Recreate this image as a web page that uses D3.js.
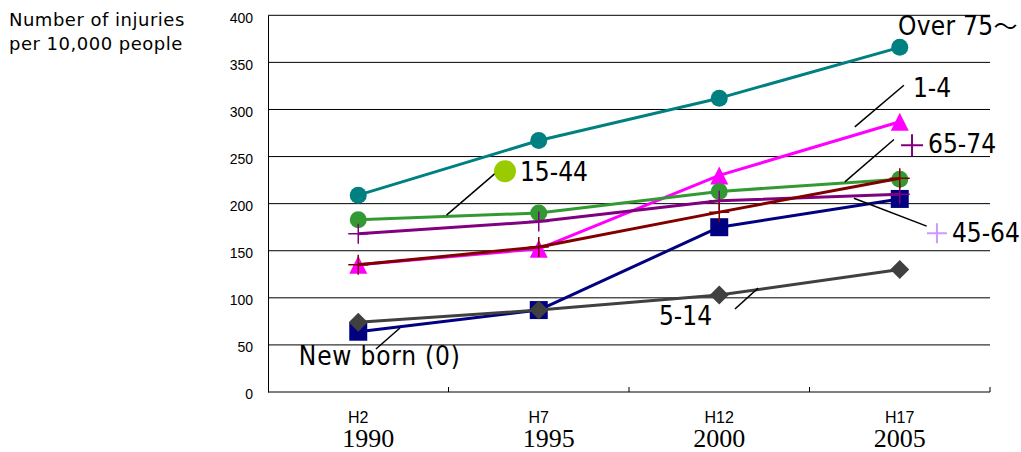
<!DOCTYPE html>
<html>
<head>
<meta charset="utf-8">
<script src="https://cdn.jsdelivr.net/npm/d3@7"></script>
<style>
  html, body { margin: 0; padding: 0; background: #fff; }
  svg { display: block; }
  .cond { font-family: "DejaVu Sans Condensed", "DejaVu Sans", sans-serif; font-stretch: condensed; }
</style>
</head>
<body>
<svg id="chart" width="1021" height="452"></svg>
<script>
// Injury rate per 10,000 people, by age group
const years = ["1990", "1995", "2000", "2005"];
const eraLabels = ["H2", "H7", "H12", "H17"];
const yTicks = [0, 50, 100, 150, 200, 250, 300, 350, 400];

const newborn   = [64, 87, 175, 205];
const age1to4   = [135, 152, 230, 287];
const age5to14  = [74, 87, 103, 130];
const age15to44 = [183, 190, 213, 226];
const age45to64 = [168, 181, 203, 210];
const age65to74 = [135, 154, 191, 227];
const over75    = [209, 267, 312, 366];

const seriesNames = ["New born (0)", "1-4", "5-14", "15-44", "45-64", "65-74", "Over 75～"];
const seriesValues = [newborn, age1to4, age5to14, age15to44, age45to64, age65to74, over75];
const seriesColors = ["#000080", "#ff00ff", "#404040", "#339933", "#800080", "#800000", "#008080"];
const seriesShapes = ["square", "triangle", "diamond", "circle", "plus", "plus", "circle"];

const svg = d3.select("#chart");
const plot = { left: 268, right: 990, top: 15.3, bottom: 392 };

const x = d3.scaleBand().domain(years).range([plot.left, plot.right]).padding(0);
const y = d3.scaleLinear().domain([0, 400]).range([plot.bottom, plot.top]);
const cx = d => x(d) + x.bandwidth() / 2;
// fractional category index -> pixel, for annotations placed between categories
const xi = d3.scaleLinear().domain([0, years.length - 1]).range([cx(years[0]), cx(years[years.length - 1])]);

// gridlines
svg.append("g")
  .selectAll("line").data(yTicks.filter(t => t > 0)).join("line")
  .attr("x1", plot.left).attr("x2", plot.right)
  .attr("y1", d => y(d)).attr("y2", d => y(d))
  .attr("stroke", "#000").attr("stroke-width", 1);

// y axis
const yAxis = svg.append("g").attr("transform", `translate(${plot.left},0)`)
  .call(d3.axisLeft(y).tickValues(yTicks).tickSize(0).tickPadding(15));
yAxis.select(".domain").attr("stroke", "#000");
yAxis.selectAll("text")
  .attr("font-family", "Liberation Sans, Arial, sans-serif")
  .attr("font-size", 14).attr("fill", "#000").attr("dy", "0.48em");

// x axis with inward ticks at category boundaries
const xAxisG = svg.append("g").attr("transform", `translate(0,${plot.bottom})`);
xAxisG.append("line").attr("x1", plot.left).attr("x2", plot.right).attr("stroke", "#000");
xAxisG.selectAll("line.tick").data(years).join("line").attr("class", "tick")
  .attr("x1", d => x(d) + x.bandwidth()).attr("x2", d => x(d) + x.bandwidth())
  .attr("y1", -5).attr("y2", 0).attr("stroke", "#000");

// category labels: era name above the western year
const yearNudge = [10, 10, 0, 0];
svg.append("g").selectAll("text").data(eraLabels).join("text")
  .attr("x", (d, i) => cx(years[i])).attr("y", 423)
  .attr("text-anchor", "middle")
  .attr("font-family", "Liberation Sans, Arial, sans-serif").attr("font-size", 16)
  .text(d => d);
svg.append("g").selectAll("text").data(years).join("text")
  .attr("x", (d, i) => cx(d) + yearNudge[i]).attr("y", 447)
  .attr("text-anchor", "middle")
  .attr("font-family", "Liberation Serif, Times New Roman, serif").attr("font-size", 26)
  .text(d => d);

// y axis title
const title = svg.append("text")
  .attr("font-family", "DejaVu Sans, sans-serif").attr("font-size", 18)
  .attr("letter-spacing", 0.5).attr("fill", "#000");
title.append("tspan").attr("x", 9).attr("y", 26).text("Number of injuries");
title.append("tspan").attr("x", 9).attr("y", 50).text("per 10,000 people");

// marker shapes
function markerPath(shape) {
  switch (shape) {
    case "square": return "M-9,-9H9V9H-9Z";
    case "triangle": return "M0,-9L9,9H-9Z";
    case "diamond": return "M0,-9.5L9.5,0L0,9.5L-9.5,0Z";
    case "circle": return d3.symbol(d3.symbolCircle, Math.PI * 8.5 * 8.5)();
    case "plus": return "M-10,0H10M0,-10V10";
  }
}

const line = d3.line().x((d, i) => cx(years[i])).y(d => y(d));

seriesValues.forEach((vals, s) => {
  const g = svg.append("g");
  g.append("path").attr("d", line(vals))
    .attr("fill", "none").attr("stroke", seriesColors[s]).attr("stroke-width", 3)
    .attr("stroke-linejoin", "round");
  const shape = seriesShapes[s];
  g.selectAll("path.m").data(vals).join("path").attr("class", "m")
    .attr("transform", (d, i) => `translate(${cx(years[i])},${y(d)})`)
    .attr("d", markerPath(shape))
    .attr("fill", shape === "plus" ? "none" : seriesColors[s])
    .attr("stroke", shape === "plus" ? seriesColors[s] : "none")
    .attr("stroke-width", 1.5);
});

// series labels with leader lines (positions in category index / value units)
const leaders = [
  { name: "15-44",  from: [0.489, 187.8], to: [0.762, 232.7] },
  { name: "1-4",    from: [2.751, 281.5], to: [3.023, 325.7] },
  { name: "65-74",  from: [2.696, 223.1], to: [2.968, 268.1] },
  { name: "45-64",  from: [2.746, 205.8], to: [3.149, 176.1] },
  { name: "5-14",   from: [2.087, 88.1],  to: [2.215, 110.3] },
  { name: "New born (0)", from: [0.098, 45.6], to: [0.231, 67.9] }
];
svg.append("g").selectAll("line").data(leaders).join("line")
  .attr("x1", d => xi(d.from[0])).attr("y1", d => y(d.from[1]))
  .attr("x2", d => xi(d.to[0])).attr("y2", d => y(d.to[1]))
  .attr("stroke", "#000").attr("stroke-width", 1.5);

const labels = [
  { text: seriesNames[6], at: [2.990, 378.8], spacing: 0.3 },
  { text: seriesNames[3], at: [0.896, 223.9], spacing: 0 },
  { text: seriesNames[1], at: [3.073, 313.0], spacing: 0 },
  { text: seriesNames[5], at: [3.157, 253.6], spacing: 0 },
  { text: seriesNames[4], at: [3.289, 159.1], spacing: 0 },
  { text: seriesNames[2], at: [1.666, 71.1], spacing: 0 },
  { text: seriesNames[0], at: [-0.329, 28.6], spacing: 0.8 }
];
const labelText = svg.append("g").selectAll("text").data(labels).join("text")
  .attr("class", "cond").attr("font-size", 26).attr("fill", "#000")
  .attr("letter-spacing", d => d.spacing)
  .attr("x", d => xi(d.at[0])).attr("y", d => y(d.at[1]));
// the full-width wave dash is set in a CJK face so it keeps its full width
labelText.each(function (d) {
  const t = d3.select(this);
  const m = d.text.match(/^(.*?)(～?)$/);
  t.append("tspan").text(m[1]);
  if (m[2]) t.append("tspan").attr("font-family", "Noto Sans CJK JP, sans-serif").attr("font-size", 24).text(m[2]);
});

// label keys
const keyG = svg.append("g");
keyG.append("path").attr("d", d3.symbol(d3.symbolCircle, Math.PI * 11 * 11)())
  .attr("transform", `translate(${xi(0.813)},${y(234.5)})`).attr("fill", "#99cc00");
keyG.append("path").attr("d", "M-11,0H11M0,-11V11")
  .attr("transform", `translate(${xi(3.068)},${y(262)})`)
  .attr("stroke", "#800080").attr("stroke-width", 2).attr("fill", "none");
keyG.append("path").attr("d", "M-10,0H10M0,-10V10")
  .attr("transform", `translate(${xi(3.206)},${y(168.7)})`)
  .attr("stroke", "#cc99ff").attr("stroke-width", 2).attr("fill", "none");
</script>
</body>
</html>
